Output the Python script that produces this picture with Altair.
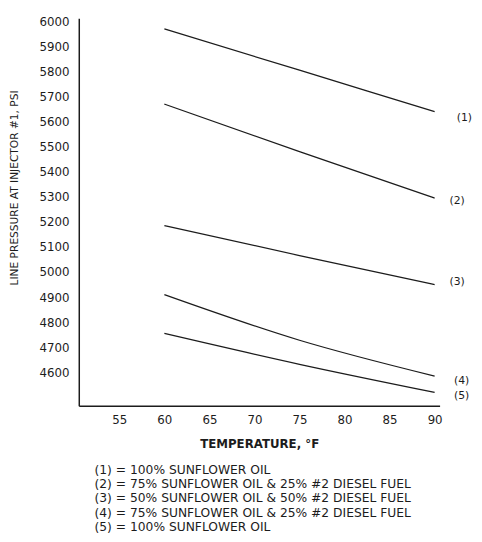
import altair as alt
import pandas as pd

# Data
temps = [60, 75, 90]
s1 = [5970, 5805, 5640]
s2 = [5670, 5480, 5295]
s3 = [5185, 5066, 4950]
s4 = [4910, 4728, 4585]
s5 = [4755, 4632, 4520]
series_names = ["(1)", "(2)", "(3)", "(4)", "(5)"]
label_temp = [93.3, 92.5, 92.5, 93.0, 93.0]
label_psi = [5616, 5282, 4961, 4565, 4506]
x_ticks = [55, 60, 65, 70, 75, 80, 85, 90]
y_ticks = list(range(4600, 6001, 100))
notes = [
    "(1) = 100% SUNFLOWER OIL",
    "(2) = 75% SUNFLOWER OIL & 25% #2 DIESEL FUEL",
    "(3) = 50% SUNFLOWER OIL & 50% #2 DIESEL FUEL",
    "(4) = 75% SUNFLOWER OIL & 25% #2 DIESEL FUEL",
    "(5) = 100% SUNFLOWER OIL",
]

rows = []
for name, vals in zip(series_names, [s1, s2, s3, s4, s5]):
    for t, v in zip(temps, vals):
        rows.append({"series": name, "temp": t, "psi": v})
df = pd.DataFrame(rows)
lab = pd.DataFrame({"label": series_names, "temp": label_temp, "psi": label_psi})

FONT = "DejaVu Sans"
INK = "#1c1c1c"

xs = alt.Scale(domain=[50.5, 90.55], nice=False, zero=False)
ys = alt.Scale(domain=[4467, 6012], nice=False, zero=False)

x_axis = alt.Axis(values=x_ticks, title="TEMPERATURE, °F", ticks=False,
                  labelPadding=9, titleY=39, titleBaseline="middle",
                  titleFontWeight="bold", titleFontSize=12)
y_axis = alt.Axis(values=y_ticks, title="LINE PRESSURE AT INJECTOR #1, PSI",
                  ticks=False, labelPadding=10, format="d", labelOverlap=False,
                  titleX=-65, titleY=172, titleBaseline="middle", titleAlign="center",
                  titleFontWeight="normal", titleFontSize=10.8)

lines = alt.Chart(df).mark_line(color=INK, strokeWidth=1.3, interpolate="monotone").encode(
    x=alt.X("temp:Q", scale=xs, axis=x_axis),
    y=alt.Y("psi:Q", scale=ys, axis=y_axis),
    detail="series:N",
)

texts = alt.Chart(lab).mark_text(font=FONT, fontSize=11, color=INK, align="center",
                                 baseline="middle").encode(
    x=alt.X("temp:Q", scale=xs, axis=x_axis),
    y=alt.Y("psi:Q", scale=ys, axis=y_axis),
    text="label:N",
)

chart = (lines + texts).properties(
    width=367,
    height=394,
    autosize=alt.AutoSizeParams(type="none"),
    padding={"left": 72, "top": 6, "right": 35, "bottom": 126},
    title=alt.TitleParams(text=notes, orient="bottom", anchor="start", frame="group",
                          dx=16, offset=14, fontSize=12.5, fontWeight="normal",
                          lineHeight=14.6, font=FONT, color=INK),
).configure_view(stroke=None).configure_axis(
    grid=False,
    domainColor=INK,
    domainWidth=1.5,
    labelFont=FONT,
    labelFontSize=12,
    labelColor=INK,
    labelOverlap=False,
    titleFont=FONT,
    titleColor=INK,
)

chart.save("out.html", embed_options={"renderer": "svg", "actions": False})
